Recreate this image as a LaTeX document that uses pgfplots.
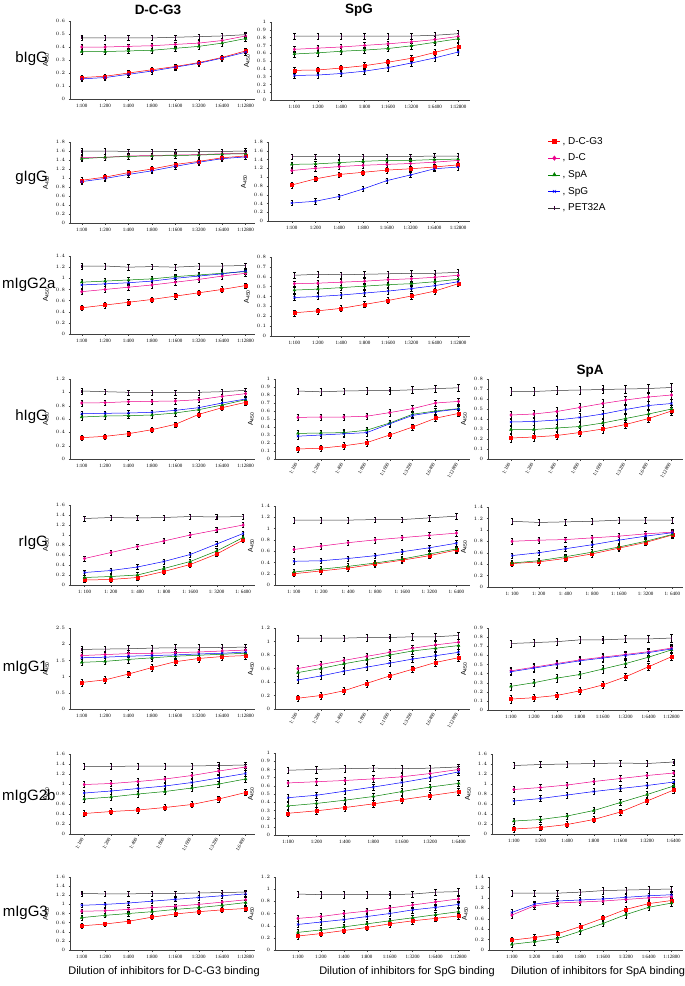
\documentclass[border=0pt]{standalone}
\usepackage{pgfplots}
\pgfplotsset{compat=1.18}
\usepackage{pgfplotstable}
\usepackage{fontspec}
\setmainfont{Liberation Sans}
\newfontfamily\tickfont{Liberation Serif}

\pgfplotsset{
 panel/.style={scale only axis, clip=false, axis x line*=bottom, axis y line*=left, ymin=0,
   axis line style={line width=0.4pt, black!75},
   tick align=outside, major tick length=1.5pt, tick style={black!75, line width=0.3pt},
   tick label style={font=\fontsize{5}{6}\selectfont},
   ylabel={A\textsubscript{450}}, ylabel style={font=\fontsize{7}{8}\selectfont},
   xtick={0,...,7}, xticklabels={1:100,1:200,1:400,1:800,1:1600,1:3200,1:6400,1:12800},
   xticklabel style={font=\fontsize{5}{6}\tickfont},
   anchor=south west},
 seven/.style={xtick={0,...,6}, xticklabels={1: 100,1: 200,1: 400,1: 800,1: 1600,1: 3200,1: 6400}},
 sevenb/.style={xtick={0,...,6}, xticklabels={1:100,1:200,1:400,1:800,1:1600,1:3200,1:6400}},
 rot/.style={xticklabel style={rotate=60,anchor=east}},
 eb/.style={line width=0.5pt, mark size=1.5pt, error bars/y dir=both, error bars/y fixed=#1,
   error bars/error bar style={black, line width=0.3pt, solid},
   error bars/error mark options={rotate=90, black, mark size=1.2pt, line width=0.3pt}},
 rs/.style={color=red, mark=square*, mark options={fill=red}},
 ms/.style={color=magenta, mark=diamond*, mark options={fill=magenta}},
 gs/.style={color=green!50!black, mark=triangle*, mark options={fill=green!50!black}},
 bs/.style={color=blue, mark=x},
 ks/.style={color=black!80, mark=|, mark options={color=violet!50!black}},
}

\newcommand{\five}[2]{%
\addplot[rs,eb=#2] table[x=x,y=r]{#1};
\addplot[ms,eb=#2] table[x=x,y=m]{#1};
\addplot[gs,eb=#2] table[x=x,y=g]{#1};
\addplot[bs,eb=#2] table[x=x,y=b]{#1};
\addplot[ks,eb=#2] table[x=x,y=k]{#1};
}

% columns: r = D-C-G3, m = D-C, g = SpA, b = SpG, k = PET32A
\pgfplotstableread{
x r m g b k
0 0.165 0.40 0.365 0.155 0.47
1 0.175 0.40 0.365 0.165 0.47
2 0.20 0.405 0.37 0.19 0.47
3 0.225 0.41 0.375 0.215 0.47
4 0.25 0.42 0.39 0.245 0.475
5 0.28 0.43 0.405 0.275 0.48
6 0.32 0.45 0.43 0.315 0.485
7 0.37 0.485 0.465 0.36 0.495
}\tAa
\pgfplotstableread{
x r m g b k
0 0.38 0.65 0.59 0.315 0.82
1 0.385 0.665 0.605 0.32 0.82
2 0.41 0.68 0.625 0.34 0.82
3 0.44 0.70 0.64 0.37 0.82
4 0.485 0.72 0.66 0.415 0.82
5 0.535 0.745 0.695 0.475 0.82
6 0.61 0.775 0.74 0.54 0.83
7 0.685 0.815 0.785 0.615 0.85
}\tAb
\pgfplotstableread{
x r m g b k
0 0.95 1.45 1.43 0.92 1.60
1 1.02 1.46 1.46 0.99 1.60
2 1.12 1.49 1.48 1.08 1.59
3 1.20 1.50 1.49 1.16 1.59
4 1.30 1.51 1.50 1.26 1.59
5 1.37 1.52 1.51 1.35 1.59
6 1.45 1.54 1.53 1.43 1.59
7 1.49 1.55 1.54 1.47 1.60
}\tBa
\pgfplotstableread{
x r m g b k
0 0.82 1.15 1.29 0.41 1.47
1 0.96 1.20 1.30 0.45 1.47
2 1.06 1.24 1.33 0.56 1.47
3 1.11 1.27 1.36 0.73 1.47
4 1.16 1.29 1.38 0.92 1.47
5 1.19 1.31 1.38 1.05 1.47
6 1.23 1.34 1.40 1.19 1.48
7 1.28 1.38 1.41 1.23 1.48
}\tBb
\pgfplotstableread{
x r m g b k
0 0.47 0.76 0.93 0.88 1.22
1 0.52 0.80 0.95 0.90 1.22
2 0.57 0.84 0.97 0.92 1.20
3 0.62 0.88 0.99 0.95 1.21
4 0.68 0.93 1.03 1.00 1.20
5 0.74 0.98 1.06 1.04 1.22
6 0.80 1.04 1.09 1.08 1.22
7 0.87 1.09 1.12 1.13 1.23
}\tCa
\pgfplotstableread{
x r m g b k
0 0.235 0.53 0.465 0.39 0.615
1 0.255 0.535 0.475 0.40 0.625
2 0.28 0.545 0.49 0.415 0.62
3 0.32 0.555 0.505 0.435 0.625
4 0.36 0.57 0.52 0.455 0.63
5 0.405 0.58 0.53 0.48 0.635
6 0.455 0.595 0.55 0.51 0.635
7 0.53 0.615 0.575 0.55 0.645
}\tCb
\pgfplotstableread{
x r m g b k
0 0.32 0.84 0.63 0.68 1.02
1 0.34 0.845 0.645 0.685 1.01
2 0.38 0.86 0.65 0.69 1.00
3 0.44 0.865 0.66 0.70 1.00
4 0.52 0.87 0.69 0.73 1.00
5 0.67 0.89 0.74 0.77 1.00
6 0.77 0.94 0.81 0.84 1.01
7 0.85 0.98 0.89 0.90 1.03
}\tDa
\pgfplotstableread{
x r m g b k
0 0.125 0.52 0.32 0.285 0.85
1 0.135 0.525 0.325 0.30 0.84
2 0.165 0.525 0.33 0.315 0.85
3 0.205 0.535 0.36 0.33 0.855
4 0.30 0.58 0.45 0.44 0.855
5 0.40 0.63 0.56 0.545 0.865
6 0.51 0.70 0.60 0.59 0.88
7 0.57 0.72 0.63 0.625 0.89
}\tDb
\pgfplotstableread{
x r m g b k
0 0.21 0.44 0.295 0.37 0.675
1 0.22 0.45 0.295 0.375 0.675
2 0.235 0.475 0.31 0.39 0.685
3 0.265 0.515 0.325 0.415 0.69
4 0.30 0.555 0.36 0.45 0.695
5 0.345 0.59 0.405 0.495 0.70
6 0.405 0.62 0.45 0.535 0.705
7 0.48 0.64 0.50 0.555 0.715
}\tDc
\pgfplotstableread{
x r m g b k
0 0.10 0.53 0.15 0.25 1.33
1 0.11 0.65 0.17 0.29 1.35
2 0.15 0.77 0.20 0.36 1.34
3 0.27 0.88 0.33 0.47 1.35
4 0.41 1.00 0.47 0.61 1.37
5 0.62 1.10 0.68 0.82 1.36
6 0.90 1.20 0.95 1.03 1.37
}\tEa
\pgfplotstableread{
x r m g b k
0 0.20 0.63 0.23 0.42 1.15
1 0.25 0.69 0.28 0.43 1.15
2 0.30 0.75 0.33 0.47 1.15
3 0.37 0.80 0.39 0.52 1.16
4 0.44 0.84 0.46 0.59 1.16
5 0.52 0.88 0.55 0.66 1.19
6 0.62 0.92 0.64 0.74 1.22
}\tEb
\pgfplotstableread{
x r m g b k
0 0.41 0.80 0.42 0.55 1.15
1 0.44 0.82 0.46 0.60 1.13
2 0.50 0.83 0.53 0.67 1.14
3 0.58 0.86 0.61 0.74 1.15
4 0.68 0.89 0.70 0.82 1.17
5 0.78 0.93 0.80 0.89 1.17
6 0.91 0.96 0.92 0.95 1.17
}\tEc
\pgfplotstableread{
x r m g b k
0 0.82 1.65 1.44 1.58 1.84
1 0.90 1.68 1.47 1.60 1.85
2 1.08 1.71 1.53 1.63 1.86
3 1.28 1.72 1.58 1.65 1.88
4 1.46 1.74 1.63 1.67 1.89
5 1.56 1.76 1.66 1.70 1.89
6 1.62 1.79 1.69 1.72 1.90
7 1.65 1.82 1.72 1.76 1.91
}\tFa
\pgfplotstableread{
x r m g b k
0 0.16 0.60 0.54 0.43 1.05
1 0.20 0.66 0.60 0.49 1.05
2 0.27 0.72 0.67 0.56 1.05
3 0.38 0.78 0.73 0.62 1.06
4 0.49 0.84 0.80 0.68 1.06
5 0.59 0.90 0.86 0.74 1.07
6 0.69 0.95 0.90 0.79 1.07
7 0.76 0.99 0.94 0.84 1.09
}\tFb
\pgfplotstableread{
x r m g b k
0 0.12 0.43 0.26 0.42 0.73
1 0.135 0.47 0.30 0.46 0.74
2 0.16 0.51 0.35 0.50 0.75
3 0.21 0.55 0.39 0.54 0.77
4 0.275 0.58 0.45 0.57 0.77
5 0.365 0.61 0.51 0.60 0.78
6 0.475 0.64 0.58 0.63 0.78
7 0.585 0.68 0.66 0.67 0.79
}\tFc
\pgfplotstableread{
x r m g b k
0 0.41 0.99 0.70 0.82 1.35
1 0.45 1.01 0.74 0.86 1.35
2 0.48 1.05 0.80 0.91 1.36
3 0.53 1.10 0.85 0.96 1.36
4 0.59 1.17 0.92 1.03 1.36
5 0.70 1.26 1.00 1.12 1.37
6 0.83 1.34 1.10 1.21 1.38
}\tGa
\pgfplotstableread{
x r m g b k
0 0.265 0.635 0.355 0.455 0.79
1 0.295 0.65 0.385 0.485 0.80
2 0.335 0.665 0.425 0.535 0.81
3 0.38 0.685 0.47 0.585 0.815
4 0.43 0.71 0.53 0.64 0.81
5 0.48 0.75 0.585 0.70 0.815
6 0.53 0.80 0.63 0.77 0.83
}\tGb
\pgfplotstableread{
x r m g b k
0 0.10 0.89 0.26 0.66 1.37
1 0.13 0.93 0.29 0.71 1.39
2 0.19 0.98 0.36 0.78 1.40
3 0.29 1.05 0.47 0.85 1.41
4 0.44 1.11 0.63 0.91 1.42
5 0.66 1.17 0.79 0.97 1.41
6 0.88 1.22 0.96 1.04 1.44
}\tGc
\pgfplotstableread{
x r m g b k
0 0.53 0.85 0.71 0.98 1.24
1 0.57 0.86 0.76 1.00 1.23
2 0.63 0.89 0.80 1.03 1.23
3 0.72 0.93 0.84 1.07 1.24
4 0.79 0.96 0.89 1.11 1.24
5 0.84 1.00 0.93 1.15 1.25
6 0.88 1.05 0.98 1.19 1.26
7 0.91 1.10 1.04 1.23 1.27
}\tHa
\pgfplotstableread{
x r m g b k
0 0.23 0.52 0.29 0.42 0.92
1 0.27 0.55 0.33 0.46 0.91
2 0.32 0.60 0.38 0.50 0.91
3 0.37 0.64 0.43 0.55 0.91
4 0.43 0.69 0.48 0.60 0.91
5 0.48 0.74 0.53 0.66 0.92
6 0.52 0.79 0.58 0.70 0.95
7 0.56 0.84 0.63 0.75 0.96
}\tHb
\pgfplotstableread{
x r m g b k
0 0.19 0.67 0.11 0.72 1.09
1 0.24 0.85 0.16 0.88 1.09
2 0.31 0.90 0.22 0.94 1.09
3 0.45 0.92 0.36 0.96 1.11
4 0.61 0.94 0.51 0.98 1.14
5 0.78 0.97 0.68 1.01 1.15
6 0.89 1.00 0.82 1.04 1.16
7 0.95 1.02 0.90 1.06 1.17
}\tHc

\begin{document}
\begin{tikzpicture}
\useasboundingbox[fill=white] (0pt,0pt) rectangle (685pt,-986pt);

% Row 1 bIgG
\begin{axis}[panel, at={(70pt,-99pt)}, width=185pt, height=78pt, xmin=-0.5, xmax=7.4, ymax=0.6, ytick distance=0.1]
\five{\tAa}{0.02}
\end{axis}
\begin{axis}[panel, at={(271pt,-100pt)}, width=199pt, height=78pt, xmin=-1, xmax=7.5, ymax=1, ytick distance=0.1]
\five{\tAb}{0.04}
\end{axis}

% Row 2 gIgG
\begin{axis}[panel, at={(70pt,-223pt)}, width=185pt, height=81pt, xmin=-0.5, xmax=7.4, ymax=1.8, ytick distance=0.2]
\five{\tBa}{0.06}
\end{axis}
\begin{axis}[panel, at={(268pt,-221pt)}, width=202pt, height=79pt, xmin=-1, xmax=7.5, ymax=1.8, ytick distance=0.2,
  legend entries={{, D-C-G3},{, D-C},{, SpA},{, SpG},{, PET32A}},
  legend style={at={(1.371,1.114)}, anchor=north west, draw=none, fill=none, font=\fontsize{10}{12}\selectfont, row sep=4.2pt, cells={anchor=west}},
  legend image code/.code={\draw[mark repeat=2,mark phase=2,mark size=2.2pt] plot coordinates {(0pt,0pt) (6pt,0pt) (12pt,0pt)};}]
\five{\tBb}{0.06}
\end{axis}

% Row 3 mIgG2a
\begin{axis}[panel, at={(70pt,-334pt)}, width=185pt, height=78pt, xmin=-0.5, xmax=7.4, ymax=1.4, ytick distance=0.2]
\five{\tCa}{0.05}
\end{axis}
\begin{axis}[panel, at={(271pt,-336pt)}, width=199pt, height=79pt, xmin=-1, xmax=7.5, ymax=0.8, ytick distance=0.1]
\five{\tCb}{0.03}
\end{axis}

% Row 4 hIgG
\begin{axis}[panel, at={(70pt,-459pt)}, width=185pt, height=80pt, xmin=-0.5, xmax=7.4, ymax=1.2, ytick distance=0.2]
\five{\tDa}{0.04}
\end{axis}
\begin{axis}[panel, rot, at={(275pt,-459pt)}, width=195pt, height=80pt, xmin=-1, xmax=7.5, ymax=1, ytick distance=0.1]
\five{\tDb}{0.04}
\end{axis}
\begin{axis}[panel, rot, at={(488pt,-459pt)}, width=195pt, height=80pt, xmin=-1, xmax=7.5, ymax=0.8, ytick distance=0.1]
\five{\tDc}{0.04}
\end{axis}

% Row 5 rIgG
\begin{axis}[panel, seven, at={(70pt,-585pt)}, width=185pt, height=80pt, xmin=-0.55, xmax=6.45, ymax=1.6, ytick distance=0.2]
\five{\tEa}{0.05}
\end{axis}
\begin{axis}[panel, seven, at={(275pt,-585pt)}, width=195pt, height=79pt, xmin=-0.7, xmax=6.5, ymax=1.4, ytick distance=0.2]
\five{\tEb}{0.05}
\end{axis}
\begin{axis}[panel, seven, at={(488pt,-587pt)}, width=195pt, height=80pt, xmin=-0.9, xmax=6.4, ymax=1.4, ytick distance=0.2]
\five{\tEc}{0.05}
\end{axis}

% Row 6 mIgG1
\begin{axis}[panel, at={(70pt,-709pt)}, width=185pt, height=81pt, xmin=-0.5, xmax=7.4, ymax=2.5, ytick distance=0.5]
\five{\tFa}{0.1}
\end{axis}
\begin{axis}[panel, rot, at={(275pt,-709pt)}, width=195pt, height=81pt, xmin=-1, xmax=7.5, ymax=1.2, ytick distance=0.2]
\five{\tFb}{0.05}
\end{axis}
\begin{axis}[panel, at={(488pt,-710pt)}, width=195pt, height=82pt, xmin=-1, xmax=7.5, ymax=0.9, ytick distance=0.1]
\five{\tFc}{0.04}
\end{axis}

% Row 7 mIgG2b
\begin{axis}[panel, sevenb, rot, at={(70pt,-834pt)}, width=185pt, height=80pt, xmin=-0.53, xmax=6.35, ymax=1.6, ytick distance=0.2]
\five{\tGa}{0.06}
\end{axis}
\begin{axis}[panel, sevenb, at={(275pt,-835pt)}, width=195pt, height=82pt, xmin=-0.46, xmax=6.4, ymax=1, ytick distance=0.1]
\five{\tGb}{0.04}
\end{axis}
\begin{axis}[panel, sevenb, at={(492pt,-834pt)}, width=191pt, height=80pt, xmin=-0.82, xmax=6.35, ymax=1.6, ytick distance=0.2]
\five{\tGc}{0.06}
\end{axis}

% Row 8 mIgG3
\begin{axis}[panel, at={(70pt,-950pt)}, width=185pt, height=73pt, xmin=-0.5, xmax=7.4, ymax=1.6, ytick distance=0.2]
\five{\tHa}{0.05}
\end{axis}
\begin{axis}[panel, at={(275pt,-950pt)}, width=195pt, height=73pt, xmin=-1, xmax=7.5, ymax=1.2, ytick distance=0.2]
\five{\tHb}{0.05}
\end{axis}
\begin{axis}[panel, at={(489pt,-950pt)}, width=194pt, height=73pt, xmin=-1, xmax=7.5, ymax=1.4, ytick distance=0.2]
\five{\tHc}{0.06}
\end{axis}

% titles
\node[font=\bfseries\fontsize{13.5}{14}\selectfont] at (158pt,-10pt) {D-C-G3};
\node[font=\bfseries\fontsize{13.5}{14}\selectfont] at (359pt,-10pt) {SpG};
\node[font=\bfseries\fontsize{13.5}{14}\selectfont] at (590pt,-371pt) {SpA};
% row labels
\begin{scope}[every node/.style={font=\fontsize{15}{16}\selectfont, anchor=east, inner sep=0pt}]
\node at (48pt,-59pt) {bIgG};
\node at (48pt,-178pt) {gIgG};
\node[anchor=west] at (2pt,-285pt) {mIgG2a};
\node at (48pt,-417pt) {hIgG};
\node at (48pt,-543pt) {rIgG};
\node at (48pt,-668pt) {mIgG1};
\node[anchor=west] at (2pt,-797pt) {mIgG2b};
\node at (48pt,-913pt) {mIgG3};
\end{scope}
% bottom labels
\begin{scope}[every node/.style={font=\fontsize{11}{12}\selectfont, inner sep=0pt}]
\node at (164pt,-972pt) {Dilution of inhibitors for D-C-G3 binding};
\node at (407pt,-972pt) {Dilution of inhibitors for SpG binding};
\node at (598pt,-972pt) {Dilution of inhibitors for SpA binding};
\end{scope}
\end{tikzpicture}
\end{document}
